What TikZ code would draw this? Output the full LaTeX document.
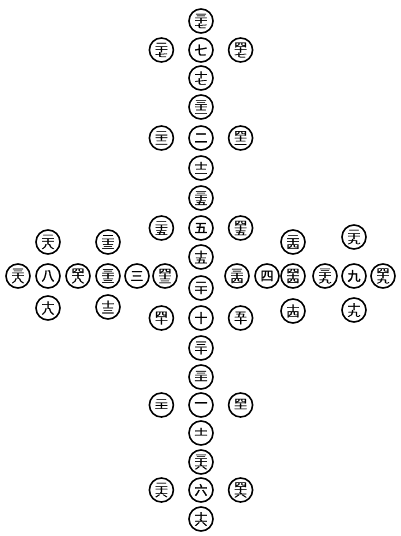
\documentclass[tikz,border=0pt]{standalone}
\usepackage{fontspec}
\usepackage{graphicx}
\newfontfamily\cjk[FakeBold=1.6]{Noto Sans CJK TC}
\usetikzlibrary{positioning}

% stacked numerals inside one circle (small glyphs, widened)
\newcommand{\ntwo}[2]{\vbox{\offinterlineskip\fontsize{7.5}{7.5}\selectfont
  \hbox{\scalebox{1.73}[1]{#1}}\hbox{\scalebox{1.73}[1]{#2}}}}
\newcommand{\nthree}[3]{\vbox{\offinterlineskip\fontsize{5.7}{5.7}\selectfont
  \hbox{\scalebox{2.28}[1]{#1}}\hbox{\scalebox{2.28}[1]{#2}}\hbox{\scalebox{2.28}[1]{#3}}}}

\begin{document}
\begin{tikzpicture}[
  x=1pt,y=-1pt,
  node distance=14pt,
  num/.style={circle,draw=black,line width=1.6pt,minimum size=24pt,inner sep=0pt,
              font=\cjk\fontsize{13}{13}\selectfont}
]
  \useasboundingbox (0,0) rectangle (400,536);

  % middle column
  \node[num] (n37) at (201,21) {\nthree{三}{十}{七}};
  \node[num] (n7) at (201,50) {七};
  \node[num] (n17) at (201,78) {\ntwo{十}{七}};
  \node[num] (n32) at (201,107) {\nthree{三}{十}{二}};
  \node[num] (n2) at (201,138) {二};
  \node[num] (n12) at (201,168) {\ntwo{十}{二}};
  \node[num] (n35) at (201,198) {\nthree{三}{十}{五}};
  \node[num] (n5) at (201,228) {五};
  \node[num] (n15) at (201,257) {\ntwo{十}{五}};
  \node[num] (n20) at (201,288) {\ntwo{二}{十}};
  \node[num] (n10) at (201,318) {十};
  \node[num] (n30) at (201,348) {\ntwo{三}{十}};
  \node[num] (n31) at (201,377) {\nthree{三}{十}{一}};
  \node[num] (n1) at (201,405) {一};
  \node[num] (n11) at (201,433) {\ntwo{十}{一}};
  \node[num] (n36) at (201,462) {\nthree{三}{十}{六}};
  \node[num] (n6) at (201,490) {六};
  \node[num] (n16) at (201,519) {\ntwo{十}{六}};

  % beside the column
  \node[num,left=of n7] (n27) {\nthree{二}{十}{七}};
  \node[num,right=of n7] (n47) {\nthree{四}{十}{七}};
  \node[num,left=of n2] (n22) {\nthree{二}{十}{二}};
  \node[num,right=of n2] (n42) {\nthree{四}{十}{二}};
  \node[num,left=of n5] (n25) {\nthree{二}{十}{五}};
  \node[num,right=of n5] (n45) {\nthree{四}{十}{五}};
  \node[num,left=of n10] (n40) {\ntwo{四}{十}};
  \node[num,right=of n10] (n50) {\ntwo{五}{十}};
  \node[num,left=of n1] (n21) {\nthree{二}{十}{一}};
  \node[num,right=of n1] (n41) {\nthree{四}{十}{一}};
  \node[num,left=of n6] (n26) {\nthree{二}{十}{六}};
  \node[num,right=of n6] (n46) {\nthree{四}{十}{六}};

  % left arm
  \node[num] (n38) at (18,276) {\nthree{三}{十}{八}};
  \node[num] (n8) at (48,276) {八};
  \node[num] (n48) at (78,276) {\nthree{四}{十}{八}};
  \node[num] (n28) at (48,242) {\nthree{二}{十}{八}};
  \node[num] (n18) at (48,308) {\ntwo{十}{八}};
  \node[num] (n33) at (108,276) {\nthree{三}{十}{三}};
  \node[num] (n3) at (137,276) {三};
  \node[num] (n43) at (165,276) {\nthree{四}{十}{三}};
  \node[num] (n23) at (108,242) {\nthree{二}{十}{三}};
  \node[num] (n13) at (108,307) {\ntwo{十}{三}};

  % right arm
  \node[num] (n34) at (237,276) {\nthree{三}{十}{四}};
  \node[num] (n4) at (267,276) {四};
  \node[num] (n44) at (293,276) {\nthree{四}{十}{四}};
  \node[num] (n24) at (293,242) {\nthree{二}{十}{四}};
  \node[num] (n14) at (293,311) {\ntwo{十}{四}};
  \node[num] (n39) at (325,276) {\nthree{三}{十}{九}};
  \node[num] (n9) at (354,276) {九};
  \node[num] (n49) at (383,276) {\nthree{四}{十}{九}};
  \node[num] (n29) at (354,237) {\nthree{二}{十}{九}};
  \node[num] (n19) at (354,310) {\ntwo{十}{九}};
\end{tikzpicture}
\end{document}
